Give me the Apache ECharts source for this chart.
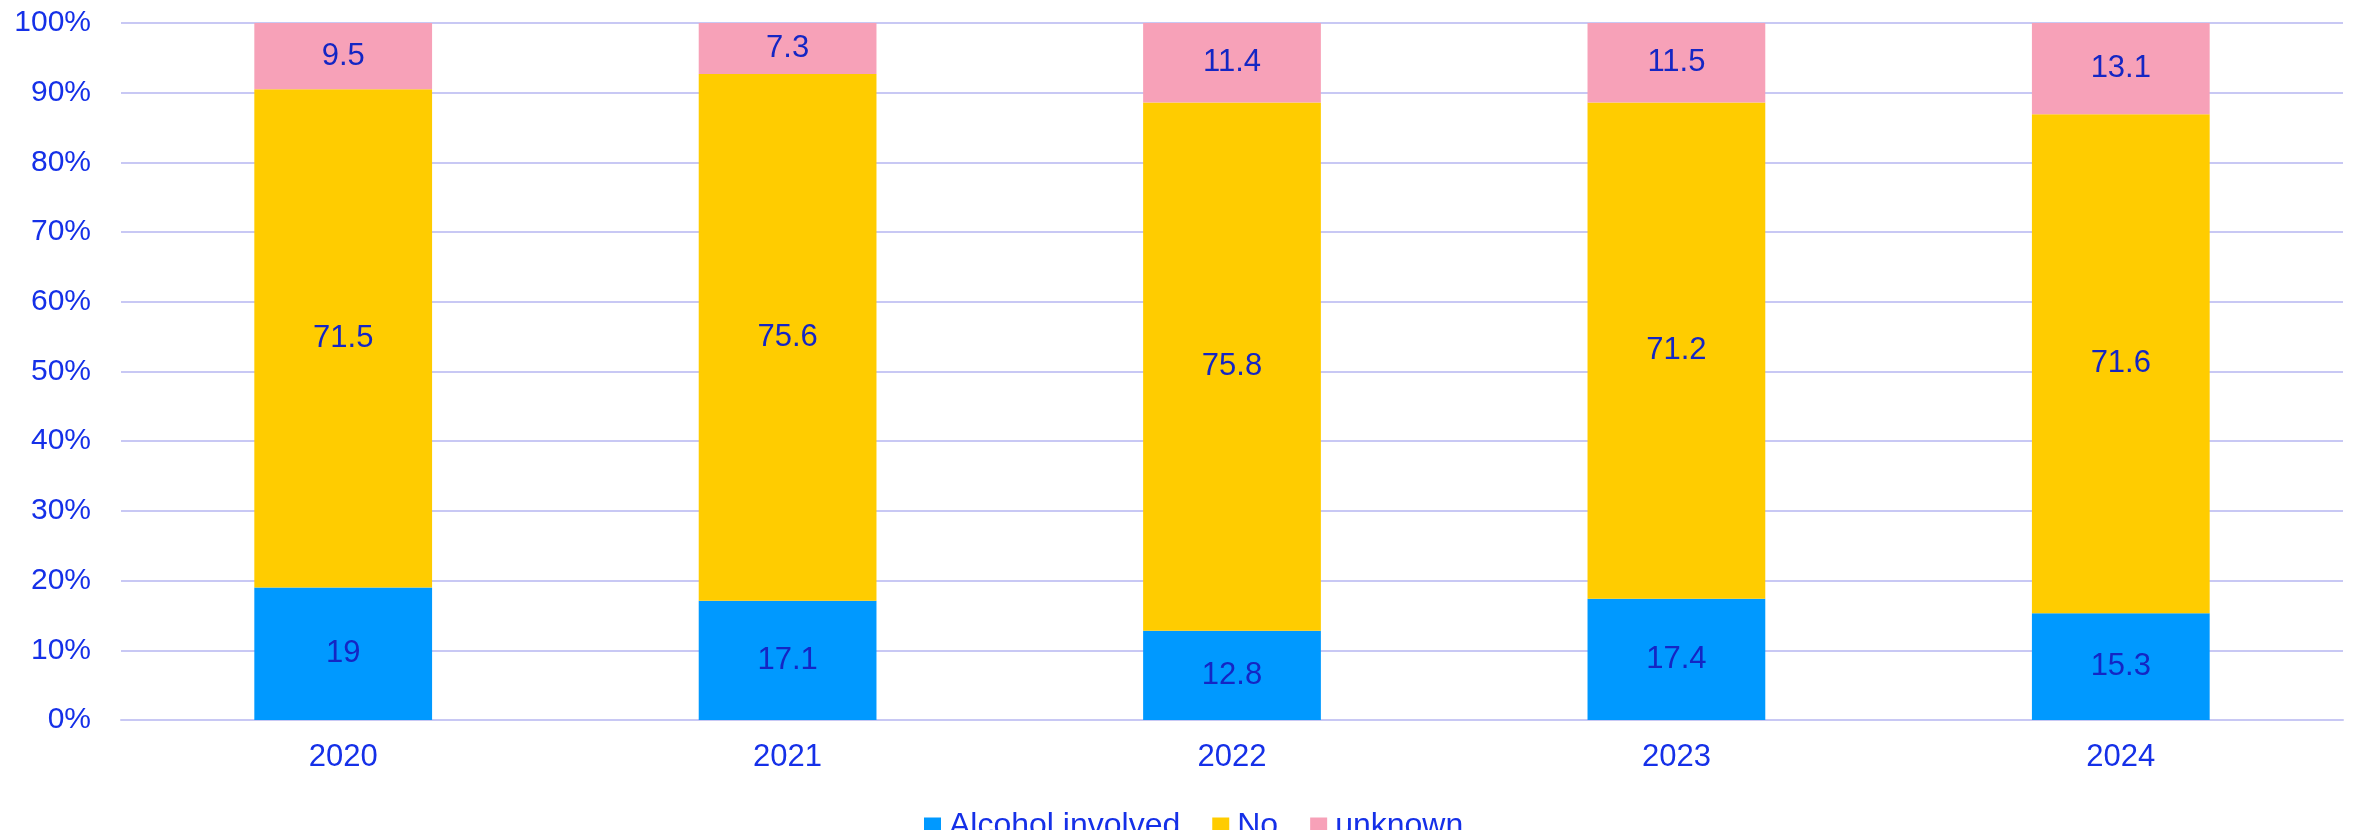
<!DOCTYPE html>
<html>
<head>
<meta charset="utf-8">
<script src="https://cdn.jsdelivr.net/npm/echarts@6/dist/echarts.min.js"></script>
<style>html,body{margin:0;padding:0;background:#fff}#c{width:2359px;height:830px}</style>
</head>
<body>
<div id="c"></div>
<script>
const years = ['2020', '2021', '2022', '2023', '2024'];
const alcohol = [19, 17.1, 12.8, 17.4, 15.3];
const no = [71.5, 75.6, 75.8, 71.2, 71.6];
const unknown = [9.5, 7.3, 11.4, 11.5, 13.1];
const seriesNames = ['Alcohol involved', 'No', 'unknown'];
const yTicks = [0, 10, 20, 30, 40, 50, 60, 70, 80, 90, 100];

const font = '"Liberation Sans", Arial, sans-serif';
const axisColor = '#1530e8';
const labelColor = '#1426c4';
const colors = ['#0099FF', '#FFCC00', '#F7A1B8'];

const chart = echarts.init(document.getElementById('c'));
function mk(name, data, color) {
  return {
    name, type: 'bar', stack: 'total', data, barWidth: '40%',
    itemStyle: { color },
    label: { show: true, position: 'inside', color: labelColor, fontSize: 31, fontFamily: font },
    emphasis: { disabled: true }
  };
}
chart.setOption({
  animation: false,
  textStyle: { fontFamily: font },
  grid: { left: 121, right: 16, top: 23, bottom: 110 },
  legend: {
    top: 805, left: 919,
    itemWidth: 17, itemHeight: 17, itemGap: 32,
    icon: 'rect',
    textStyle: { color: axisColor, fontSize: 32, fontFamily: font, padding: [0, 0, 0, 3] },
    data: seriesNames
  },
  xAxis: {
    type: 'category', data: years,
    axisLine: { lineStyle: { color: '#c8c8f4', width: 2 } },
    axisTick: { show: false },
    axisLabel: { color: axisColor, fontSize: 31, fontFamily: font, margin: 22 }
  },
  yAxis: {
    type: 'value', min: yTicks[0], max: yTicks[yTicks.length - 1], interval: 10,
    axisLine: { show: false }, axisTick: { show: false },
    splitLine: { lineStyle: { color: '#c8c8f4', width: 2 } },
    axisLabel: { color: axisColor, fontSize: 30, fontFamily: font, margin: 30, padding: [6, 0, 0, 0], formatter: v => v + '%' }
  },
  series: [
    mk(seriesNames[0], alcohol, colors[0]),
    mk(seriesNames[1], no, colors[1]),
    mk(seriesNames[2], unknown, colors[2])
  ]
});
</script>
</body>
</html>
